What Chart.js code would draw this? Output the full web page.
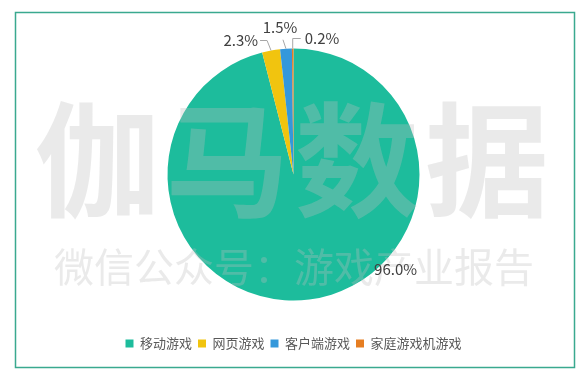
<!DOCTYPE html>
<html lang="zh-CN">
<head>
  <meta charset="UTF-8" />
  <title>游戏细分市场占比</title>
  <script src="https://cdn.jsdelivr.net/npm/chart.js"></script>
  <style>
    body {
      margin: 0;
      background-color: #ffffff;
    }
    .chart-box {
      position: relative;
      width: 587px;
      height: 376px;
    }
  </style>
</head>
<body>
  <div class="chart-box"><canvas id="graficaMercado"></canvas></div>

  <script>
    // datos
    const categorias = ['移动游戏', '网页游戏', '客户端游戏', '家庭游戏机游戏'];
    const porcentajes = [96.0, 2.3, 1.5, 0.2];
    const etiquetas = ['96.0%', '2.3%', '1.5%', '0.2%'];

    const colores = ['#1dbc9c', '#f1c40f', '#3498db', '#e67e22'];
    const fuente = "'Noto Sans CJK SC', 'Microsoft YaHei', sans-serif";

    // posición de cada etiqueta respecto al borde del sector (línea guía + texto)
    const guias = [
      null,
      { linea: [[0, 0], [-4, -10], [-11, -10]], texto: [-13, -10], align: 'right' },
      { linea: [[0, 0], [-3, -9]], texto: [-6, -21], align: 'center' },
      { linea: [[0, 0], [0, -10], [8, -10]], texto: [12, -10], align: 'left' }
    ];

    // marco verde y marca de agua
    const marcoPlugin = {
      id: 'marco',
      beforeDraw(chart) {
        const ctx = chart.ctx;
        ctx.save();
        ctx.strokeStyle = '#3aa98f';
        ctx.lineWidth = 1.5;
        ctx.strokeRect(15.5, 12.5, 559, 355);
        ctx.restore();
      },
      afterDatasetsDraw(chart) {
        const ctx = chart.ctx;
        const arcs = chart.getDatasetMeta(0).data;

        ctx.save();
        ctx.fillStyle = 'rgba(190, 190, 190, 0.32)';
        ctx.textAlign = 'center';
        ctx.textBaseline = 'middle';
        ctx.font = "bold 124px " + fuente;
        const grande = '伽马数据';
        for (let i = 0; i < grande.length; i++) {
          ctx.fillText(grande[i], 97 + i * 130, 160);
        }
        ctx.font = "40px " + fuente;
        ctx.fillText('微信公众号：游戏产业报告', 294, 267);
        ctx.restore();

        // etiquetas de porcentaje
        ctx.save();
        ctx.font = "15px " + fuente;
        ctx.fillStyle = '#404040';
        ctx.strokeStyle = '#a6a6a6';
        ctx.lineWidth = 1;
        ctx.textBaseline = 'middle';
        arcs.forEach((arc, i) => {
          const p = arc.getProps(['x', 'y', 'startAngle', 'endAngle', 'outerRadius'], true);
          if (!guias[i]) {
            ctx.textAlign = 'center';
            ctx.fillText(etiquetas[i], p.x + p.outerRadius * 0.81, p.y + p.outerRadius * 0.75);
            return;
          }
          const medio = (p.startAngle + p.endAngle) / 2;
          const bx = p.x + Math.cos(medio) * p.outerRadius;
          const by = p.y + Math.sin(medio) * p.outerRadius;
          const g = guias[i];
          ctx.beginPath();
          g.linea.forEach(([dx, dy], k) => {
            if (k === 0) ctx.moveTo(bx + dx, by + dy);
            else ctx.lineTo(bx + dx, by + dy);
          });
          ctx.stroke();
          ctx.textAlign = g.align;
          ctx.fillText(etiquetas[i], bx + g.texto[0], by + g.texto[1]);
        });
        ctx.restore();
      }
    };

    new Chart(document.getElementById('graficaMercado'), {
      type: 'pie',
      data: {
        labels: categorias,
        datasets: [{
          data: porcentajes,
          backgroundColor: colores,
          borderWidth: 0,
          radius: 126
        }]
      },
      options: {
        responsive: true,
        maintainAspectRatio: false,
        animation: false,
        layout: { padding: { top: 18, bottom: 16 } },
        plugins: {
          tooltip: { enabled: false },
          legend: {
            position: 'bottom',
            labels: {
              boxWidth: 8,
              boxHeight: 8,
              padding: 6,
              color: '#595959',
              font: { family: fuente, size: 13 }
            }
          }
        }
      },
      plugins: [marcoPlugin]
    });
  </script>
</body>
</html>
